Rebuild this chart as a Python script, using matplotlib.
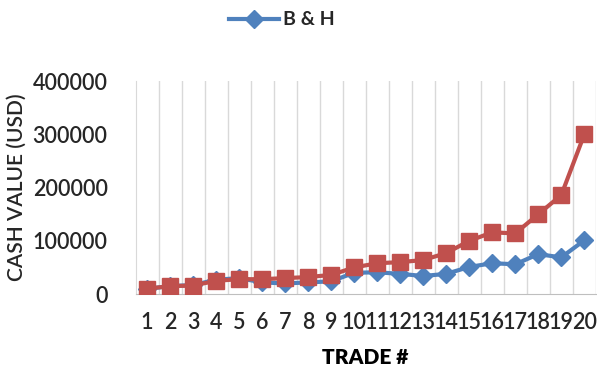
import matplotlib.pyplot as plt

trades = list(range(1, 21))
tick_labels = [str(t) for t in trades]
bh_values = [10000, 15000, 17000, 27000, 30000, 22000, 20000, 22000, 24000, 40000,
             41000, 38000, 34000, 38000, 51000, 58000, 56000, 75000, 69000, 101000]
strategy_values = [10000, 15000, 16000, 25000, 28000, 28000, 30000, 32000, 36000, 50000,
                   58000, 60000, 64000, 77000, 100000, 116000, 114000, 150000, 186000, 300000]

plt.rcParams['font.family'] = ['Lato', 'DejaVu Sans']

fig = plt.figure(figsize=(5.97, 3.69), dpi=100)
ax = fig.add_axes([0.227, 0.203, 0.771, 0.577])

line_bh, = ax.plot(trades, bh_values, color='#4F81BD', lw=3, marker='D',
                   markersize=9, label='B & H', zorder=3)
ax.plot(trades, strategy_values, color='#C0504D', lw=3, marker='s',
        markersize=12, zorder=4)

ax.set_xlim(0.5, 20.5)
ax.set_ylim(0, 400000)
ax.set_yticks([0, 100000, 200000, 300000, 400000])
ax.set_xticks(trades)
ax.set_xticklabels(tick_labels)

# vertical gridlines between categories
for b in range(1, 21):
    ax.axvline(b + 0.5, color='#D9D9D9', lw=1, zorder=0)

for s in ['top', 'right']:
    ax.spines[s].set_visible(False)
ax.spines['left'].set_color('#D9D9D9')
ax.spines['bottom'].set_color('#BFBFBF')
ax.tick_params(axis='both', length=0, labelsize=15.5, colors='#262626')
ax.tick_params(axis='y', pad=20)
ax.tick_params(axis='x', pad=13)
for lbl in ax.get_xticklabels() + ax.get_yticklabels():
    lbl.set_fontweight('semibold')

ax.set_ylabel('CASH VALUE (USD)', fontsize=15, color='#262626', labelpad=4,
              fontweight='semibold')
ax.set_xlabel('TRADE #', fontsize=15, fontweight='heavy', color='black', labelpad=11)

leg = fig.legend(handles=[line_bh], loc='center', bbox_to_anchor=(0.472, 0.946),
                 frameon=False, fontsize=14, handlelength=2.6, handletextpad=0.2)
for t in leg.get_texts():
    t.set_fontweight('bold')
    t.set_color('#262626')

plt.savefig('out.png', dpi=100)
